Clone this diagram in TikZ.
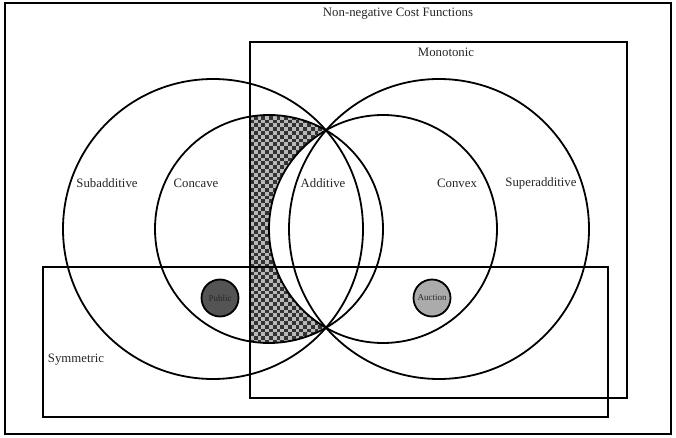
\documentclass[tikz,border=0pt]{standalone}
\usepackage{fontspec}
\setmainfont{Liberation Serif}
\begin{document}
\begin{tikzpicture}[x=1pt,y=-1pt,
  lbl/.style={font=\fontsize{12.8}{14}\selectfont, text=black!85, inner sep=0pt},
  small/.style={font=\fontsize{9}{10}\selectfont, text=black!85, inner sep=0pt},
  ring/.style={draw=black, line width=1.8pt},
  box/.style={draw=black, line width=1.8pt},
  dot/.style={draw=black, line width=1.8pt},
  cell/.style={fill=black!80}]
\useasboundingbox (0,0) rectangle (676,438);
\fill[white] (0,0) rectangle (676,438);
% checkered region: concave minus convex, inside monotonic
\begin{scope}
  \clip (250,0) rectangle (676,438);
  \clip (269,229) circle[radius=114];
  \fill[black!28] (250,100) rectangle (400,360);
  \foreach \i in {0,2,...,34}{
    \foreach \j in {0,2,...,62}{
      \fill[cell] ({250+\i*3.8},{112+\j*3.8}) rectangle ++(3.8,3.8);
      \fill[cell] ({253.8+\i*3.8},{115.8+\j*3.8}) rectangle ++(3.8,3.8);
    }
  }
  \fill[white] (383,229) circle[radius=114];
\end{scope}
% circles
\draw[ring] (213,229) circle[radius=150];
\draw[ring] (439,229) circle[radius=150];
\draw[ring] (269,229) circle[radius=114];
\draw[ring] (383,229) circle[radius=114];
% rectangles
\draw[black, line width=2.3pt] (5,3) rectangle (671,434);
\draw[box] (250,42) rectangle (627,398);
\draw[box] (43,267) rectangle (608,417);
% labels
\node[lbl] (ncf) at (398,14) {Non-negative Cost Functions};
\node[lbl] (mono) at (446,52) {Monotonic};
\node[lbl] (sub) at (107,183) {Subadditive};
\node[lbl] (conc) at (196,183) {Concave};
\node[lbl] (add) at (323,183) {Additive};
\node[lbl] (conv) at (457,183) {Convex};
\node[lbl] (sup) at (541,183) {Superadditive};
\node[lbl] (sym) at (76,360) {Symmetric};
% small circles
\fill[black!67] (220,298) circle[radius=18.5];
\draw[dot] (220,298) circle[radius=18.5];
\node[small] (pub) at (220,298) {Public};
\fill[black!33] (432,298) circle[radius=18.5];
\draw[dot] (432,298) circle[radius=18.5];
\node[small] (auc) at (432,298) {Auction};
\end{tikzpicture}
\end{document}
